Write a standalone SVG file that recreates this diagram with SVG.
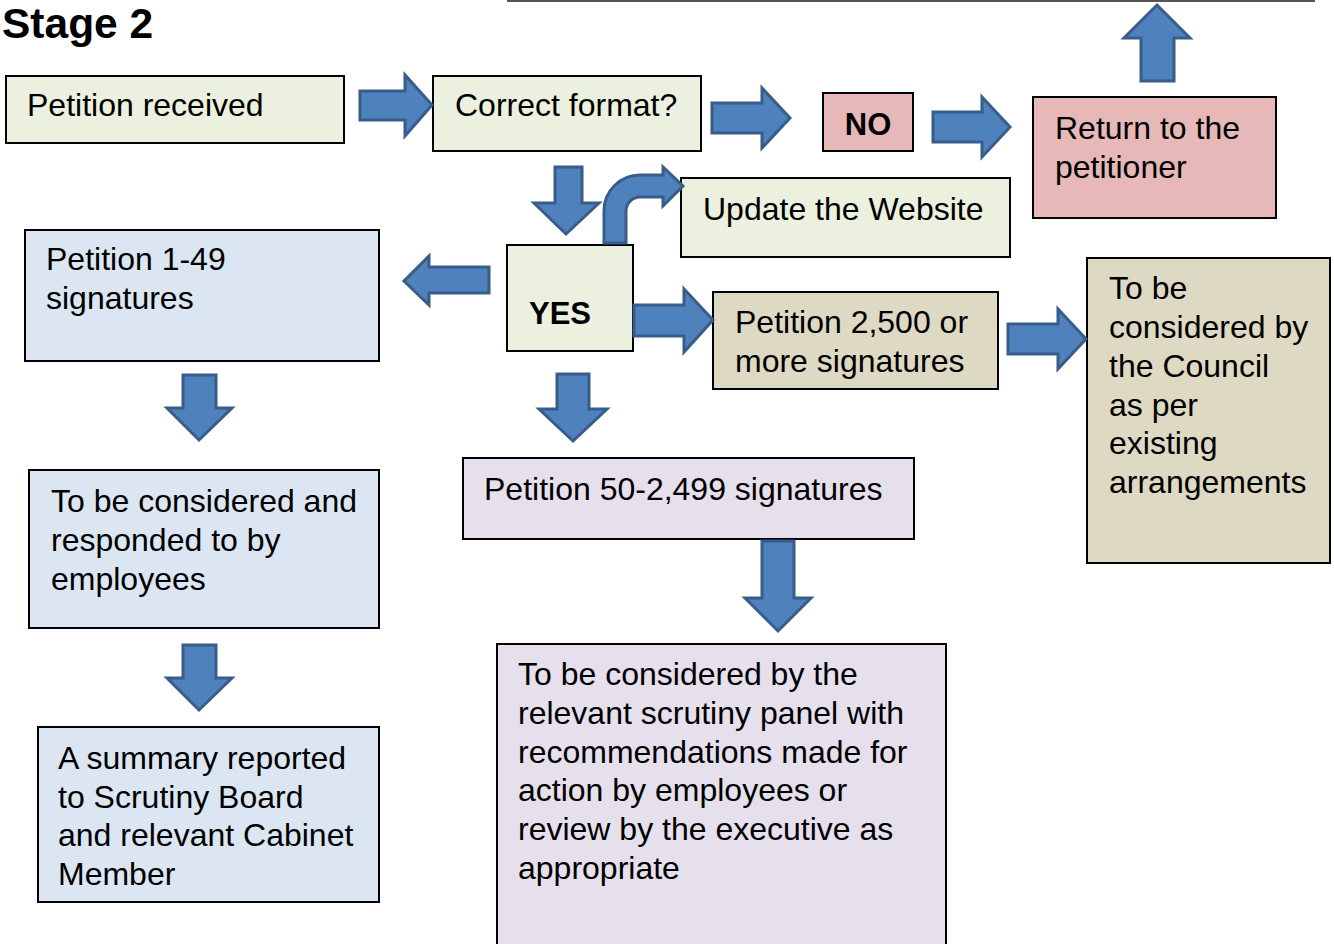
<svg xmlns="http://www.w3.org/2000/svg" width="1334" height="944" viewBox="0 0 1334 944">
<style>
.box{stroke:#000;stroke-width:2}
.g{fill:#ebf1de}.p{fill:#e6b9b8}.b{fill:#dce6f2}.t{fill:#ddd9c3}.l{fill:#e5e0ec}
text{font-family:"Liberation Sans",Arial,sans-serif;font-size:32px;fill:#000}
.bold{font-weight:bold}
.arr{fill:#4f81bd;stroke:#385d8a;stroke-width:3;stroke-linejoin:miter}
</style>
<rect width="1334" height="944" fill="#fff"/>
<line x1="507" y1="1" x2="1315" y2="1" stroke="#555" stroke-width="2"/>
<text x="2" y="38" class="bold" style="font-size:42.5px">Stage 2</text>

<g id="n-received"><rect class="box g" x="6" y="76" width="338" height="67"/><text x="27" y="116">Petition received</text></g>
<g id="n-format"><rect class="box g" x="433" y="76" width="268" height="75"/><text x="455" y="116">Correct format?</text></g>
<g id="n-no"><rect class="box p" x="823" y="93" width="90" height="58"/><text x="868" y="135" class="bold" text-anchor="middle" style="font-size:31px">NO</text></g>
<g id="n-return"><rect class="box p" x="1033" y="97" width="243" height="121"/><text x="1055" y="139">Return to the</text><text x="1055" y="178">petitioner</text></g>
<g id="n-website"><rect class="box g" x="681" y="178" width="329" height="79"/><text x="703" y="220">Update the Website</text></g>
<g id="n-yes"><rect class="box g" x="507" y="245" width="126" height="106"/><text x="529" y="324" class="bold" style="font-size:31px">YES</text></g>
<g id="n-p149"><rect class="box b" x="25" y="230" width="354" height="131"/><text x="46" y="270">Petition 1-49</text><text x="46" y="309">signatures</text></g>
<g id="n-p2500"><rect class="box t" x="713" y="292" width="285" height="97"/><text x="735" y="333">Petition 2,500 or</text><text x="735" y="372">more signatures</text></g>
<g id="n-council"><rect class="box t" x="1087" y="258" width="243" height="305"/><text x="1109" y="299">To be</text><text x="1109" y="338">considered by</text><text x="1109" y="377">the Council</text><text x="1109" y="416">as per</text><text x="1109" y="454">existing</text><text x="1109" y="493">arrangements</text></g>
<g id="n-p50"><rect class="box l" x="463" y="458" width="451" height="81"/><text x="484" y="500">Petition 50-2,499 signatures</text></g>
<g id="n-employees"><rect class="box b" x="29" y="470" width="350" height="158"/><text x="51" y="512">To be considered and</text><text x="51" y="551">responded to by</text><text x="51" y="590">employees</text></g>
<g id="n-scrutiny"><rect class="box l" x="497" y="644" width="449" height="310"/><text x="518" y="685">To be considered by the</text><text x="518" y="724">relevant scrutiny panel with</text><text x="518" y="763">recommendations made for</text><text x="518" y="801">action by employees or</text><text x="518" y="840">review by the executive as</text><text x="518" y="879">appropriate</text></g>
<g id="n-summary"><rect class="box b" x="38" y="727" width="341" height="175"/><text x="58" y="769">A summary reported</text><text x="58" y="808">to Scrutiny Board</text><text x="58" y="846">and relevant Cabinet</text><text x="58" y="885">Member</text></g>

<g id="connectors">
<path class="arr" d="M360,91 H405 V75 L432,105 L405,136 V120 H360 Z"/>
<path class="arr" d="M712,103 H762 V88 L790,118 L762,148 V133 H712 Z"/>
<path class="arr" d="M933,112 H982 V97 L1010,127 L982,157 V142 H933 Z"/>
<path class="arr" d="M1141,81 V38 H1124 L1157,5 L1190,38 H1174 V81 Z"/>
<path class="arr" d="M555,167 V203 H534 L566,234 L599,203 H582 V167 Z"/>
<path class="arr" d="M604,243 V211 A36,36 0 0 1 640,175 H663 V167 L683,186 L663,206 V197 H640 A14,14 0 0 0 626,211 V243 Z"/>
<path class="arr" d="M489,267 H429 V256 L404,281 L429,305 V293 H489 Z"/>
<path class="arr" d="M634,305 H684 V289 L713,320 L684,352 V336 H634 Z"/>
<path class="arr" d="M557,374 V409 H539 L573,441 L607,409 H589 V374 Z"/>
<path class="arr" d="M1008,324 H1058 V309 L1086,339 L1058,369 V354 H1008 Z"/>
<path class="arr" d="M183,375 V408 H167 L199,440 L232,408 H216 V375 Z"/>
<path class="arr" d="M183,645 V678 H167 L199,710 L232,678 H216 V645 Z"/>
<path class="arr" d="M762,541 V598 H745 L778,631 L811,598 H794 V541 Z"/>
</g>
</svg>
